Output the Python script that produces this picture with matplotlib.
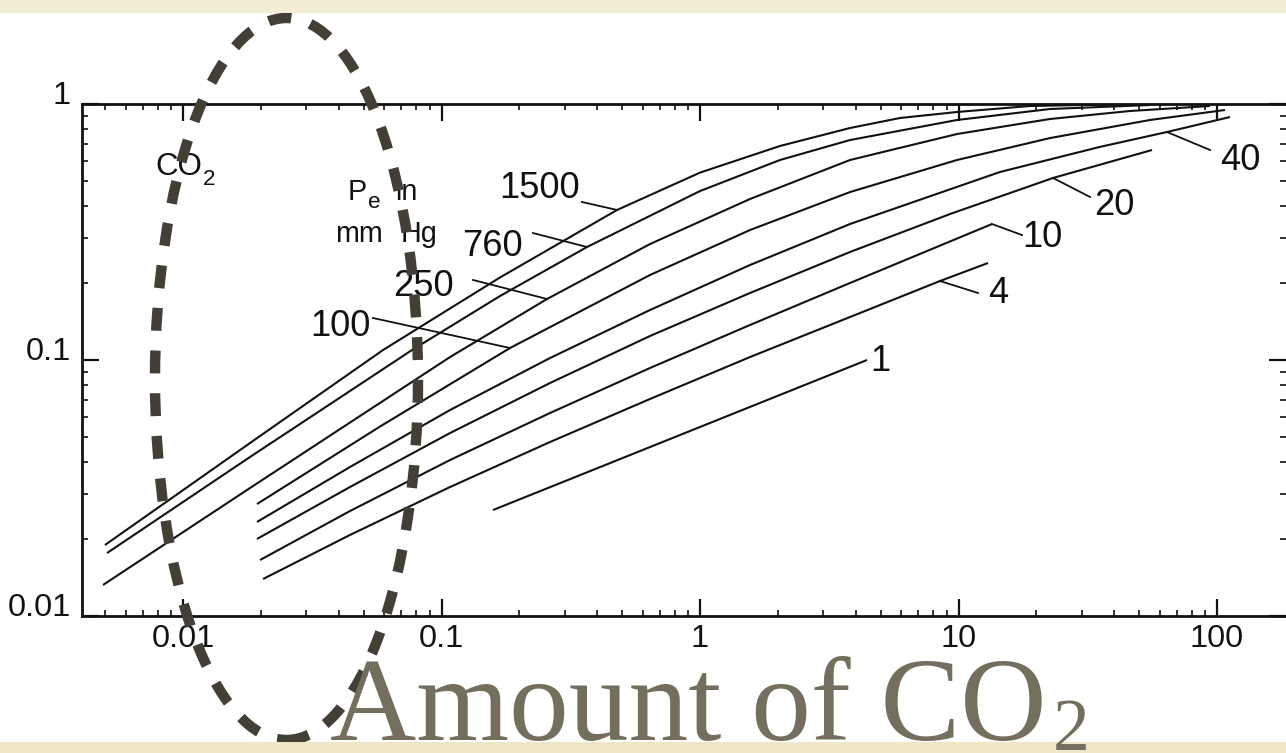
import matplotlib
matplotlib.use("Agg")
import matplotlib.pyplot as plt
from matplotlib import font_manager as fm
from matplotlib.patches import Ellipse, Rectangle
from matplotlib.transforms import IdentityTransform
from matplotlib.ticker import NullFormatter


def font_ok(name):
    try:
        fm.findfont(fm.FontProperties(family=name), fallback_to_default=False)
        return True
    except Exception:
        return False


if font_ok("Liberation Sans Narrow"):
    SANS, SC = "Liberation Sans Narrow", 1.0
else:
    SANS, SC = "Liberation Sans", 0.9
SERIF = "Liberation Serif" if font_ok("Liberation Serif") else "DejaVu Serif"

# ---------------- data ----------------
x_1500 = [0.00499, 0.01816, 0.0594, 0.1684, 0.4775, 1.0, 2.039, 3.805, 5.938, 9.867, 18.91, 38.56]
y_1500 = [0.01894, 0.04739, 0.1094, 0.2101, 0.3855, 0.5395, 0.6855, 0.8058, 0.8816, 0.9306, 0.9822, 0.9955]

x_760 = [0.005082, 0.01816, 0.07688, 0.1684, 0.3655, 1.0, 2.039, 3.805, 9.867, 22.59, 55.06]
y_760 = [0.01762, 0.04179, 0.1094, 0.1778, 0.2763, 0.4571, 0.6043, 0.7232, 0.8660, 0.9560, 0.9910]

x_250 = [0.004903, 0.01816, 0.1079, 0.2560, 0.6406, 1.561, 3.805, 9.867, 22.59, 46.07, 93.96]
y_250 = [0.01322, 0.03162, 0.1027, 0.1731, 0.2838, 0.4255, 0.6043, 0.7634, 0.8738, 0.9390, 0.9822]

x_100 = [0.01933, 0.05783, 0.1841, 0.6406, 1.561, 3.805, 9.867, 22.59, 55.06, 107.4]
y_100 = [0.02738, 0.05497, 0.1114, 0.2148, 0.3219, 0.4530, 0.6043, 0.7361, 0.8660, 0.9475]

x_40 = [0.01933, 0.04426, 0.1079, 0.2629, 0.6406, 1.561, 3.805, 14.47, 35.27, 64.07, 112.3]
y_40 = [0.02330, 0.03820, 0.06378, 0.1018, 0.1568, 0.2350, 0.3398, 0.5425, 0.6800, 0.7773, 0.8896]

x_20 = [0.01933, 0.04426, 0.1079, 0.2629, 0.6406, 1.561, 3.805, 9.270, 23.21, 56.05]
y_20 = [0.02000, 0.03191, 0.05185, 0.08131, 0.1241, 0.1827, 0.2642, 0.3717, 0.5141, 0.6612]

x_10 = [0.01986, 0.04426, 0.1079, 0.2629, 0.6406, 1.561, 3.805, 13.48]
y_10 = [0.01655, 0.02571, 0.04068, 0.06209, 0.09306, 0.1370, 0.1999, 0.3398]

x_4 = [0.02040, 0.04426, 0.1079, 0.2629, 0.6406, 1.561, 3.805, 8.480, 13.01]
y_4 = [0.01395, 0.02073, 0.03191, 0.04782, 0.07043, 0.1027, 0.1472, 0.2035, 0.2393]

x_1 = [0.1582, 0.8368, 4.426]
y_1 = [0.02594, 0.05093, 0.1]

curves_x = [x_1500, x_760, x_250, x_100, x_40, x_20, x_10, x_4, x_1]
curves_y = [y_1500, y_760, y_250, y_100, y_40, y_20, y_10, y_4, y_1]

label_text = ["1500", "760", "250", "100", "40", "20", "10", "4", "1"]
label_x = [0.2404, 0.1568, 0.08479, 0.04049, 122.7, 39.95, 21.04, 14.22, 4.969]
label_y = [0.4827, 0.2890, 0.1999, 0.1395, 0.6209, 0.4142, 0.3133, 0.1877, 0.1027]

# leader lines: (x on curve, y on curve, x near label, y near label)
lead_x0 = [0.4775, 0.3655, 0.2560, 0.1841, 64.07, 23.21, 13.48, 8.480]
lead_y0 = [0.3855, 0.2763, 0.1731, 0.1114, 0.7773, 0.5141, 0.3398, 0.2035]
lead_x1 = [0.3495, 0.2259, 0.1324, 0.0543, 93.96, 32.27, 17.61, 11.90]
lead_y1 = [0.4142, 0.3133, 0.2054, 0.1459, 0.6612, 0.4333, 0.3077, 0.1827]

x_ticks = [0.01, 0.1, 1, 10, 100]
x_tick_labels = ["0.01", "0.1", "1", "10", "100"]
y_ticks = [0.01, 0.1, 1]
y_tick_labels = ["0.01", "0.1", "1"]

title_main = "Amount of CO"
title_sub = "2"

# ---------------- figure ----------------
W, H = 1286, 753
fig = plt.figure(figsize=(W / 100, H / 100), dpi=100, facecolor="white")
plt.rcParams["font.family"] = [SANS, "DejaVu Sans"]

ax = fig.add_axes([82 / W, 1 - 616 / H, (W - 82) / W, (616 - 104) / H])
ax.set_xscale("log")
ax.set_yscale("log")
ax.set_xlim(0.004066, 184.9)
ax.set_ylim(0.01, 1)

for xs, ys in zip(curves_x, curves_y):
    ax.plot(xs, ys, color="#111111", lw=1.5, solid_capstyle="butt",
            solid_joinstyle="round")

for a, b, c, d in zip(lead_x0, lead_y0, lead_x1, lead_y1):
    ax.plot([a, c], [b, d], color="#111111", lw=1.3)

for t, lx, ly in zip(label_text, label_x, label_y):
    ax.text(lx, ly, t, fontsize=29 * SC, family=SANS, ha="center",
            va="center_baseline", color="#111111")

ax.set_xticks(x_ticks, labels=x_tick_labels)
ax.set_yticks(y_ticks, labels=y_tick_labels)
ax.xaxis.set_minor_formatter(NullFormatter())
ax.yaxis.set_minor_formatter(NullFormatter())
ax.tick_params(which="major", direction="in", length=12, width=1.6,
               top=True, right=True, labelsize=26 * SC, colors="#111111")
ax.tick_params(axis="x", which="major", pad=6)
ax.tick_params(axis="y", which="major", pad=8)
ax.tick_params(which="minor", direction="in", length=4.5, width=1.2,
               top=True, right=True, colors="#111111")
for lbl in ax.get_yticklabels():
    lbl.set_va("baseline")
for side in ["left", "top", "bottom"]:
    ax.spines[side].set_linewidth(2.0)
    ax.spines[side].set_color("#111111")
ax.spines["right"].set_visible(False)

renderer = fig.canvas.get_renderer()


def draw_runs(x, y, runs, transform, color, family, zorder):
    X, Y = transform.transform((x, y))
    for s, size, drop, gap in runs:
        X += gap
        t = fig.text(X, Y - drop, s, transform=IdentityTransform(), fontsize=size,
                     family=family, color=color, ha="left", va="baseline",
                     zorder=zorder)
        X = t.get_window_extent(renderer).x1


draw_runs(0.00779, 0.528, [("CO", 25 * SC, 0, 0), ("2", 18 * SC, 10, 1)],
          ax.transData, "#111111", SANS, 5)
draw_runs(0.04347, 0.4217, [("P", 23 * SC, 0, 0), ("e", 18 * SC, 8, 1),
                            ("in", 23 * SC, 0, 14)],
          ax.transData, "#111111", SANS, 5)
draw_runs(0.03873, 0.2890, [("mm", 23 * SC, 0, 0), ("Hg", 23 * SC, 0, 18)],
          ax.transData, "#111111", SANS, 5)

# dashed ellipse highlight
ell = Ellipse((286.5 / W, 1 - 379 / H), 263 / W, 722 / H, transform=fig.transFigure,
              fill=False, edgecolor="#433f36", lw=7.5,
              linestyle=(0, (2.2, 1.9)), capstyle="butt", zorder=10)
fig.add_artist(ell)

# cream bands
fig.add_artist(Rectangle((0, 1 - 13 / H), 1, 13 / H, transform=fig.transFigure,
                         facecolor="#f3edd5", edgecolor="none", zorder=20))
fig.add_artist(Rectangle((0, 0), 1, 11 / H, transform=fig.transFigure,
                         facecolor="#efe6c6", edgecolor="none", zorder=20))

# big serif title
draw_runs(330, 13, [(title_main, 86, 0, 0), (title_sub, 53, 10, 6)],
          IdentityTransform(), "#746e5f", SERIF, 30)

fig.savefig("out.png", dpi=100, facecolor="white")
